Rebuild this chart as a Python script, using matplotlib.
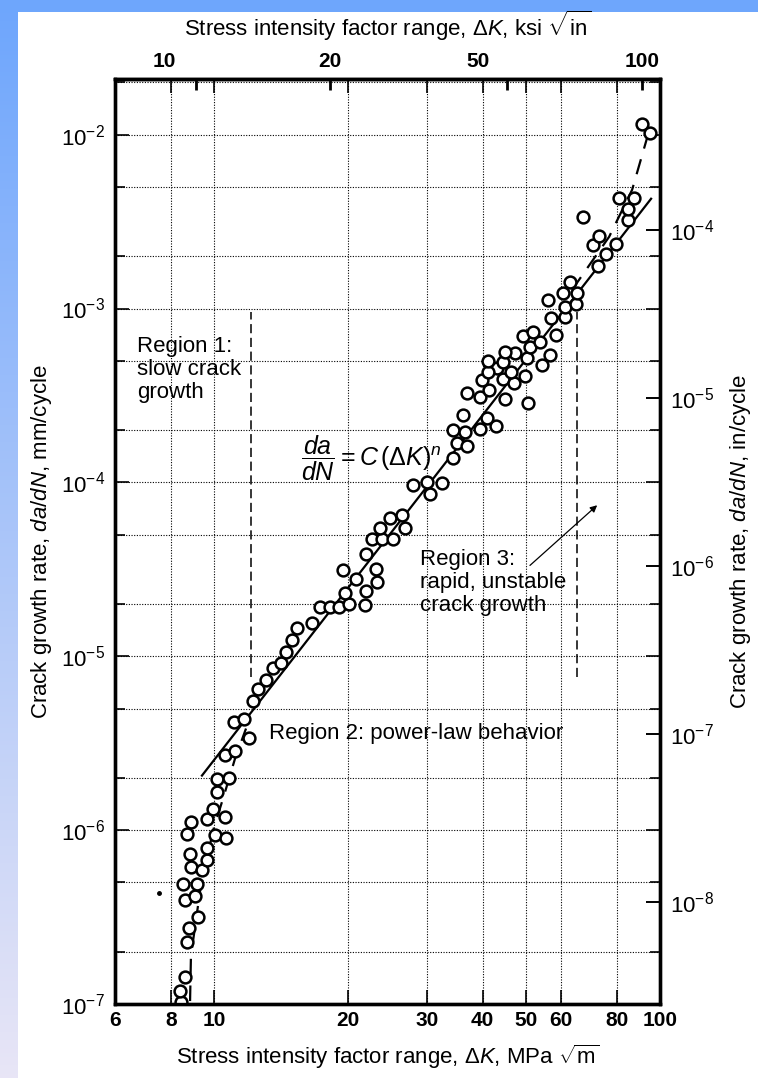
import numpy as np
import matplotlib
matplotlib.use("Agg")
import matplotlib.pyplot as plt
from matplotlib.ticker import LogLocator, NullFormatter, NullLocator
from matplotlib.patches import Rectangle
from matplotlib.transforms import ScaledTranslation

plt.rcParams['font.family'] = ['Liberation Sans', 'DejaVu Sans']
plt.rcParams['mathtext.fontset'] = 'custom'
plt.rcParams['mathtext.rm'] = 'Liberation Sans'
plt.rcParams['mathtext.it'] = 'Liberation Sans:italic'
plt.rcParams['mathtext.bf'] = 'Liberation Sans:bold'

dk = [8.44, 8.39, 8.61, 8.70, 8.79, 9.21, 8.61, 9.07, 8.52, 9.16,
      8.88, 9.40, 8.84, 9.65, 9.65, 8.70, 10.05, 10.64, 8.88, 9.65,
      10.59, 9.95, 10.16, 10.16, 10.81, 10.59, 11.15,
      11.09, 11.68, 11.98, 12.23, 12.55, 13.08, 13.56, 14.13, 14.50, 14.96,
      15.35, 16.59,
      17.29, 18.21, 19.07, 20.08, 21.81, 19.67, 21.92, 20.82, 23.20, 19.47,
      23.08, 21.92, 22.61, 23.81, 25.20, 23.57, 26.81, 24.81, 26.40,
      27.94, 30.03, 32.46, 30.50, 34.36, 35.08, 36.93, 34.36, 36.55, 39.49,
      42.89, 40.95, 36.18, 36.93, 39.49, 44.93, 50.60, 41.37, 39.90, 44.47,
      47.07, 49.82, 43.12, 41.16, 46.35, 41.16, 44.47, 50.34, 54.39, 47.32,
      44.93, 51.13, 53.83, 56.69, 49.31, 51.93, 58.47,
      56.11, 56.98, 61.25, 61.25, 64.83, 60.62, 65.17, 62.85, 72.62, 75.68,
      70.78, 79.69, 73.00, 67.22, 84.78, 84.78, 80.94, 87.45, 91.14, 94.98]
rate = [1.03e-7, 1.19e-7, 1.43e-7, 2.28e-7, 2.74e-7, 3.17e-7, 3.97e-7, 4.19e-7, 4.91e-7, 4.91e-7,
        6.15e-7, 5.91e-7, 7.31e-7, 6.75e-7, 7.92e-7, 9.53e-7, 9.41e-7, 9.04e-7, 1.12e-6, 1.16e-6,
        1.19e-6, 1.33e-6, 1.66e-6, 1.98e-6, 2.00e-6, 2.72e-6, 2.87e-6,
        4.16e-6, 4.38e-6, 3.41e-6, 5.56e-6, 6.52e-6, 7.35e-6, 8.51e-6, 9.09e-6, 1.052e-5, 1.233e-5,
        1.446e-5, 1.545e-5,
        1.910e-5, 1.910e-5, 1.910e-5, 1.988e-5, 1.962e-5, 2.300e-5, 2.361e-5, 2.770e-5, 2.662e-5, 3.121e-5,
        3.162e-5, 3.858e-5, 4.709e-5, 4.709e-5, 4.709e-5, 5.445e-5, 5.445e-5, 6.220e-5, 6.473e-5,
        9.635e-5, 1.003e-4, 9.894e-5, 8.551e-5, 1.378e-4, 1.682e-4, 1.616e-4, 1.998e-4, 1.946e-4, 2.025e-4,
        2.108e-4, 2.343e-4, 2.438e-4, 3.264e-4, 3.096e-4, 3.015e-4, 2.859e-4, 3.397e-4, 3.878e-4, 3.930e-4,
        3.727e-4, 4.089e-4, 4.547e-4, 4.312e-4, 4.312e-4, 4.990e-4, 4.924e-4, 5.192e-4, 4.732e-4, 5.549e-4,
        5.623e-4, 6.008e-4, 6.420e-4, 5.403e-4, 6.951e-4, 7.330e-4, 7.044e-4,
        1.121e-3, 8.828e-4, 8.946e-4, 1.021e-3, 1.063e-3, 1.230e-3, 1.230e-3, 1.423e-3, 1.759e-3, 2.063e-3,
        2.324e-3, 2.356e-3, 2.619e-3, 3.370e-3, 3.239e-3, 3.748e-3, 4.336e-3, 4.336e-3, 1.157e-2, 1.027e-2]

# power-law line (region 2)
fit_dk = [9.40, 95.5]
fit_rate = [2.06e-6, 4.28e-3]
# dashed curves for region 1 and region 3
reg1_dk = [8.84, 8.88, 9.31, 9.95, 10.53, 11.15, 11.80]
reg1_rate = [1.04e-7, 1.89e-7, 4.48e-7, 9.92e-7, 1.58e-6, 2.58e-6, 3.84e-6]
reg3_dk = [63.5, 76.9, 86.6, 94.0]
reg3_rate = [1.28e-3, 2.585e-3, 4.82e-3, 1.0e-2]
# region boundaries
bound_dk = [12.08, 65.17]
bound_rate = [7.6e-6, 9.5e-4]
# arrow pointing at region 3
arrow_dk = [51.1, 72.3]
arrow_rate = [3.33e-5, 7.39e-5]
# little speck of dirt in the scan
speck_dk = [7.53]
speck_rate = [4.36e-7]

bottom_ticks = [6, 8, 10, 20, 30, 40, 50, 60, 80, 100]
top_ticks = [10, 20, 50, 100]
KSI_SCALE = 0.91          # MPa sqrt(m) per ksi sqrt(in) as the top axis is drawn
in_lim = [2.46e-9, 7.92e-4]  # right axis range, in/cycle

fig = plt.figure(figsize=(7.58, 10.78), dpi=100)

# blue slide frame behind the figure
bg = fig.add_axes([0, 0, 1, 1], zorder=-5)
c_top = np.array([0.43, 0.65, 0.99])
c_bot = np.array([0.91, 0.90, 0.965])
g = np.linspace(0, 1, 256)[:, None, None]
bg.imshow(c_top * (1 - g) + c_bot * g, extent=(0, 18, 1078, 0), aspect='auto')
bg.add_patch(Rectangle((0, 0), 758, 12, color=c_top, lw=0))
bg.set_xlim(0, 758)
bg.set_ylim(1078, 0)
bg.axis('off')

ax = fig.add_axes([115 / 758, 1 - 1004 / 1078, 545 / 758, 925 / 1078])
tw = ax.twinx()
tw.xaxis.set_visible(False)

ax.plot(fit_dk, fit_rate, color='k', lw=1.6, zorder=3)
ax.plot(reg1_dk, reg1_rate, color='k', lw=1.6, dashes=(7, 5), zorder=3)
ax.plot(reg3_dk, reg3_rate, color='k', lw=1.6, dashes=(7, 5), zorder=3)
for x in bound_dk:
    ax.plot([x, x], bound_rate, color='k', lw=1.1, dashes=(6, 3), zorder=3)
ax.plot(dk, rate, 'o', ms=8.5, mfc='white', mec='black', mew=1.8, zorder=4)
ax.plot(speck_dk, speck_rate, 'o', ms=2.5, color='k', zorder=4)
ax.annotate('', xy=(arrow_dk[1], arrow_rate[1]), xytext=(arrow_dk[0], arrow_rate[0]),
            arrowprops=dict(arrowstyle='-|>', lw=0.9, color='k', mutation_scale=10,
                            shrinkA=0, shrinkB=0))

ax.set_xscale('log')
ax.set_yscale('log')
ax.set_xlim(6, 100)
ax.set_ylim(1e-7, 2.09e-2)

ax.set_xticks(bottom_ticks, labels=[str(t) for t in bottom_ticks], fontweight='bold', fontsize=15)
ax.xaxis.set_minor_locator(NullLocator())
ax.yaxis.set_major_locator(LogLocator(base=10, numticks=20))
ax.yaxis.set_minor_locator(LogLocator(base=10, subs=(2, 5), numticks=20))
ax.yaxis.set_minor_formatter(NullFormatter())
ax.xaxis.get_offset_text().set_visible(False)
ax.yaxis.get_offset_text().set_visible(False)
tw.yaxis.get_offset_text().set_visible(False)

grid_kw = dict(color='k', lw=0.8, linestyle=(0, (1, 1.4)))
ax.grid(True, which='major', axis='x', **grid_kw)
ax.grid(True, which='both', axis='y', **grid_kw)

ax.tick_params(which='both', direction='in', top=True, right=True, width=1.2, color='k')
ax.tick_params(which='major', length=10)
ax.tick_params(which='minor', length=7)
ax.tick_params(axis='x', pad=5)
ax.tick_params(axis='y', labelsize=16, pad=7)

ax.set_xlabel(r'Stress intensity factor range, $\Delta K$, MPa $\sqrt{\mathrm{m}}$', fontsize=16, labelpad=9)
ax.set_ylabel(r'Crack growth rate, $da/dN$, mm/cycle', fontsize=16, labelpad=5)

# top axis in ksi sqrt(in)
sec = ax.secondary_xaxis('top', functions=(lambda x: x / KSI_SCALE, lambda x: x * KSI_SCALE))
sec.set_ticks(top_ticks, labels=[str(t) for t in top_ticks], fontweight='bold', fontsize=15)
sec.xaxis.set_minor_locator(NullLocator())
sec.tick_params(which='major', direction='in', length=8, width=2, pad=6)
sec.set_xlabel(r'Stress intensity factor range, $\Delta K$, ksi $\sqrt{\mathrm{in}}$', fontsize=16, labelpad=11)
# in the original the "10" and "50" labels sit a little left of their ticks
for tick, shift in zip(sec.xaxis.get_major_ticks(), [-0.31, 0, -0.29, 0]):
    tick.label2.set_transform(tick.label2.get_transform()
                              + ScaledTranslation(shift, 0, fig.dpi_scale_trans))

# right axis in in/cycle
tw.set_yscale('log')
tw.set_ylim(in_lim)
tw.yaxis.set_major_locator(LogLocator(base=10, numticks=20))
tw.yaxis.set_minor_locator(NullLocator())
tw.tick_params(axis='y', direction='in', length=10, width=1.4, pad=7, labelsize=16)
tw.set_ylabel(r'Crack growth rate, $da/dN$, in/cycle', fontsize=16, labelpad=10)

for a in (ax, tw):
    for s in a.spines.values():
        s.set_linewidth(2.4)
sec.spines['top'].set_linewidth(2.4)

ax.text(0.0405, 0.686, 'Region 1:\nslow crack\ngrowth', transform=ax.transAxes,
        fontsize=16, ha='left', va='center', linespacing=1.15)
ax.text(0.2818, 0.2922, 'Region 2: power-law behavior', transform=ax.transAxes,
        fontsize=16, ha='left', va='center')
ax.text(0.560, 0.4556, 'Region 3:\nrapid, unstable\ncrack growth', transform=ax.transAxes,
        fontsize=16, ha='left', va='center', linespacing=1.15)
ax.text(0.4696, 0.5898, r'$\dfrac{da}{dN} = C\,(\Delta K)^n$', transform=ax.transAxes,
        fontsize=18, ha='center', va='center')

fig.savefig('out.png', dpi=100)
